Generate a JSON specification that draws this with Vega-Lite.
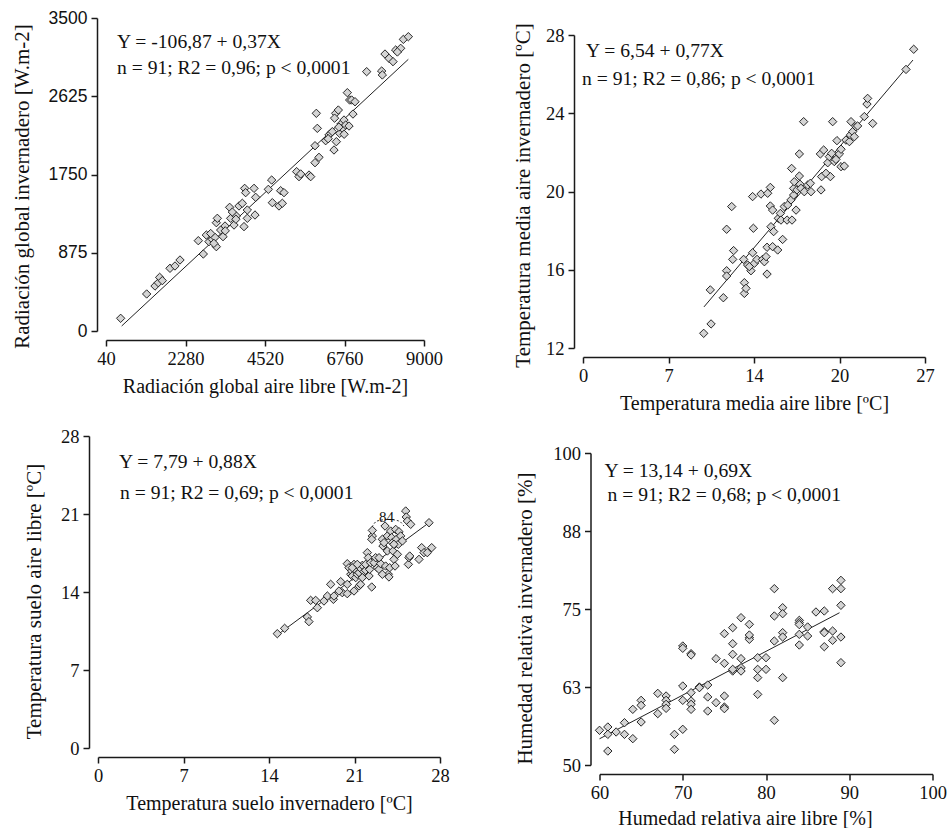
{
"$schema": "https://vega.github.io/schema/vega-lite/v6.json",
"padding": {"left": 11, "top": 9, "right": 0, "bottom": 0},
"background": "white",
"config": {
 "view": {"stroke": null},
 "axis": {"grid": false, "domainColor": "#1a1a1a", "domainWidth": 1.5, "tickColor": "#1a1a1a", "tickWidth": 1.5, "tickSize": 6, "labelColor": "#111", "titleColor": "#111", "labelFont": "Liberation Serif", "titleFont": "Liberation Serif", "labelFontSize": 18.5, "titleFontSize": 21, "titleFontWeight": "normal", "labelPadding": 4, "offset": 9, "labelFlush": false, "labelOverlap": false},
 "axisX": {"labelPadding": 3, "titlePadding": 9, "titleFontSize": 20},
 "text": {"font": "Liberation Serif", "color": "#111"},
 "point": {"shape": "diamond", "filled": true, "fill": "#d4d4d4", "stroke": "#111", "strokeWidth": 0.9, "size": 70, "opacity": 1}
},
"datasets": {
 "p1": [{"x":453,"y":142},{"x":1186,"y":414},{"x":1421,"y":503},{"x":1514,"y":540},{"x":1552,"y":600},{"x":1627,"y":563},{"x":1843,"y":701},{"x":1984,"y":727},{"x":2125,"y":794},{"x":2641,"y":1010},{"x":2782,"y":861},{"x":2867,"y":1073},{"x":2942,"y":999},{"x":3036,"y":1025},{"x":3111,"y":1047},{"x":3149,"y":943},{"x":3149,"y":1211},{"x":3177,"y":1260},{"x":3271,"y":1129},{"x":3337,"y":1055},{"x":3393,"y":1174},{"x":3524,"y":1383},{"x":3553,"y":1260},{"x":3647,"y":1185},{"x":3712,"y":1286},{"x":3787,"y":1398},{"x":3881,"y":1428},{"x":3928,"y":1167},{"x":3947,"y":1595},{"x":3975,"y":1547},{"x":4022,"y":1353},{"x":4022,"y":1260},{"x":4210,"y":1595},{"x":4238,"y":1297},{"x":4257,"y":1495},{"x":4614,"y":1584},{"x":4708,"y":1688},{"x":4727,"y":1435},{"x":4914,"y":1398},{"x":4961,"y":1569},{"x":5055,"y":1547},{"x":5008,"y":1428},{"x":5412,"y":1782},{"x":5478,"y":1726},{"x":5525,"y":1756},{"x":5760,"y":1744},{"x":5807,"y":1726},{"x":5929,"y":2072},{"x":5966,"y":2434},{"x":5994,"y":2266},{"x":5929,"y":1882},{"x":6041,"y":1942},{"x":6229,"y":2128},{"x":6323,"y":2192},{"x":6370,"y":2210},{"x":6417,"y":2229},{"x":6464,"y":2024},{"x":6511,"y":2434},{"x":6530,"y":2117},{"x":6586,"y":2471},{"x":6624,"y":2210},{"x":6661,"y":2315},{"x":6699,"y":2266},{"x":6746,"y":2359},{"x":6793,"y":2303},{"x":6840,"y":2665},{"x":6887,"y":2292},{"x":6906,"y":2583},{"x":6962,"y":2583},{"x":6999,"y":2426},{"x":7056,"y":2564},{"x":7385,"y":2900},{"x":7807,"y":2907},{"x":7826,"y":2863},{"x":7901,"y":3097},{"x":8014,"y":3049},{"x":8127,"y":3012},{"x":8202,"y":3142},{"x":8343,"y":3161},{"x":8418,"y":3261},{"x":8559,"y":3291},{"x":3080,"y":980},{"x":3400,"y":1120},{"x":3700,"y":1250},{"x":6300,"y":2150},{"x":6600,"y":2280},{"x":6750,"y":2200},{"x":8250,"y":3120},{"x":2990,"y":1090},{"x":3600,"y":1330},{"x":6480,"y":2380}],
 "l1": [{"x":482,"y":56},{"x":8558,"y":3038}],
 "p2": [{"x":9.53,"y":12.75},{"x":10.11,"y":13.23},{"x":10.05,"y":14.97},{"x":11.08,"y":14.57},{"x":11.34,"y":15.95},{"x":11.34,"y":15.68},{"x":11.74,"y":19.23},{"x":11.34,"y":18.07},{"x":11.89,"y":16.98},{"x":11.82,"y":16.53},{"x":12.74,"y":15.34},{"x":12.74,"y":14.79},{"x":12.87,"y":15.05},{"x":12.68,"y":16.53},{"x":13.0,"y":16.24},{"x":13.26,"y":15.95},{"x":13.39,"y":16.87},{"x":13.39,"y":19.74},{"x":13.45,"y":18.12},{"x":13.53,"y":16.33},{"x":13.74,"y":16.53},{"x":14.05,"y":19.87},{"x":14.18,"y":16.53},{"x":14.32,"y":16.41},{"x":14.45,"y":16.67},{"x":14.53,"y":15.78},{"x":14.53,"y":17.15},{"x":14.58,"y":19.91},{"x":14.79,"y":20.21},{"x":14.79,"y":19.26},{"x":14.97,"y":19.05},{"x":14.84,"y":18.2},{"x":14.97,"y":17.18},{"x":15.05,"y":17.95},{"x":15.37,"y":17.01},{"x":15.42,"y":18.63},{"x":15.58,"y":18.88},{"x":15.63,"y":18.54},{"x":15.76,"y":17.55},{"x":15.89,"y":19.23},{"x":16.11,"y":18.54},{"x":16.16,"y":19.31},{"x":16.42,"y":19.57},{"x":16.47,"y":21.18},{"x":16.5,"y":18.54},{"x":16.63,"y":19.82},{"x":16.63,"y":20.16},{"x":16.68,"y":20.5},{"x":16.82,"y":19.05},{"x":16.89,"y":20.08},{"x":17.08,"y":21.92},{"x":17.08,"y":20.79},{"x":17.13,"y":20.37},{"x":17.21,"y":20.16},{"x":17.42,"y":23.57},{"x":17.47,"y":19.99},{"x":17.74,"y":20.33},{"x":17.95,"y":20.42},{"x":18.0,"y":19.99},{"x":18.74,"y":21.92},{"x":18.79,"y":20.08},{"x":18.84,"y":20.76},{"x":19.0,"y":22.12},{"x":19.18,"y":20.93},{"x":19.32,"y":21.47},{"x":19.45,"y":21.78},{"x":19.53,"y":20.76},{"x":19.63,"y":21.95},{"x":19.71,"y":23.57},{"x":19.84,"y":21.53},{"x":19.97,"y":21.64},{"x":20.05,"y":22.6},{"x":20.24,"y":21.92},{"x":20.37,"y":22.16},{"x":20.37,"y":21.27},{"x":20.63,"y":21.3},{"x":20.76,"y":22.63},{"x":21.03,"y":22.55},{"x":21.11,"y":22.89},{"x":21.16,"y":23.57},{"x":21.29,"y":23.06},{"x":21.42,"y":22.8},{"x":21.55,"y":23.31},{"x":21.68,"y":23.35},{"x":22.21,"y":23.83},{"x":22.42,"y":24.47},{"x":22.47,"y":24.76},{"x":22.87,"y":23.48},{"x":25.5,"y":26.24},{"x":26.11,"y":27.27},{"x":13.13,"y":16.16}],
 "l2": [{"x":9.55,"y":14.1},{"x":26.05,"y":26.72}],
 "p3": [{"x":14.68,"y":10.26},{"x":15.28,"y":10.74},{"x":17.14,"y":11.76},{"x":17.27,"y":11.34},{"x":17.41,"y":13.25},{"x":17.82,"y":13.25},{"x":17.96,"y":12.59},{"x":18.5,"y":13.19},{"x":18.78,"y":13.64},{"x":19.05,"y":14.69},{"x":19.27,"y":13.34},{"x":19.32,"y":13.64},{"x":19.87,"y":14.93},{"x":20.0,"y":13.94},{"x":20.41,"y":14.69},{"x":20.41,"y":13.85},{"x":20.41,"y":16.54},{"x":20.55,"y":16.18},{"x":20.69,"y":15.59},{"x":20.77,"y":15.89},{"x":20.82,"y":15.44},{"x":20.96,"y":14.09},{"x":20.96,"y":16.48},{"x":21.04,"y":16.03},{"x":21.1,"y":15.29},{"x":21.23,"y":15.59},{"x":21.37,"y":15.74},{"x":21.37,"y":14.54},{"x":21.5,"y":14.69},{"x":21.5,"y":16.12},{"x":21.64,"y":16.39},{"x":21.78,"y":15.83},{"x":21.91,"y":15.95},{"x":21.91,"y":16.48},{"x":22.05,"y":17.53},{"x":22.13,"y":17.08},{"x":22.19,"y":15.44},{"x":22.24,"y":16.03},{"x":22.32,"y":16.63},{"x":22.41,"y":14.45},{"x":22.46,"y":19.03},{"x":22.41,"y":18.73},{"x":22.46,"y":19.53},{"x":22.6,"y":16.63},{"x":22.73,"y":17.08},{"x":22.87,"y":16.18},{"x":23.01,"y":16.03},{"x":23.14,"y":16.54},{"x":23.28,"y":18.73},{"x":23.33,"y":18.13},{"x":23.42,"y":18.43},{"x":23.5,"y":19.92},{"x":23.55,"y":16.33},{"x":23.69,"y":19.03},{"x":23.69,"y":17.68},{"x":23.77,"y":15.59},{"x":23.82,"y":15.35},{"x":23.88,"y":16.18},{"x":23.96,"y":19.47},{"x":24.04,"y":18.88},{"x":24.1,"y":18.43},{"x":24.15,"y":17.68},{"x":24.23,"y":16.93},{"x":24.32,"y":16.33},{"x":24.37,"y":19.62},{"x":24.43,"y":18.73},{"x":24.51,"y":17.38},{"x":24.59,"y":18.28},{"x":24.64,"y":19.41},{"x":24.78,"y":19.03},{"x":24.92,"y":18.58},{"x":25.19,"y":21.27},{"x":25.24,"y":20.73},{"x":25.33,"y":20.37},{"x":25.41,"y":16.48},{"x":25.46,"y":17.08},{"x":25.6,"y":20.07},{"x":26.28,"y":16.93},{"x":26.5,"y":17.98},{"x":26.69,"y":17.53},{"x":26.96,"y":17.53},{"x":27.1,"y":20.22},{"x":27.32,"y":17.98},{"x":25.52,"y":17.23},{"x":20.82,"y":16.18},{"x":21.64,"y":15.29},{"x":23.01,"y":17.08},{"x":24.23,"y":18.28},{"x":19.73,"y":14.09},{"x":21.23,"y":16.48},{"x":23.28,"y":15.59}],
 "l3": [{"x":14.82,"y":10.26},{"x":27.1,"y":20.22}],
 "a3": [{"x":22.43,"y":19.83},{"x":22.84,"y":20.37},{"x":23.82,"y":20.51},{"x":24.64,"y":20.37},{"x":25.05,"y":19.92}],
 "p4": [{"x":60,"y":55.56},{"x":61,"y":56.09},{"x":61,"y":54.91},{"x":61,"y":52.24},{"x":62,"y":55.29},{"x":63,"y":56.78},{"x":63,"y":54.91},{"x":64,"y":54.22},{"x":64,"y":58.92},{"x":65,"y":60.36},{"x":65,"y":59.56},{"x":65,"y":56.89},{"x":67,"y":61.48},{"x":67,"y":58.23},{"x":68,"y":61.06},{"x":68,"y":60.36},{"x":68,"y":59.72},{"x":68,"y":59.08},{"x":69,"y":54.91},{"x":69,"y":52.51},{"x":70,"y":69.07},{"x":70,"y":68.7},{"x":70,"y":62.66},{"x":70,"y":60.36},{"x":70,"y":55.72},{"x":71,"y":67.84},{"x":71,"y":67.63},{"x":71,"y":61.59},{"x":71,"y":60.26},{"x":71,"y":59.72},{"x":71,"y":58.92},{"x":72,"y":62.5},{"x":72,"y":62.39},{"x":73,"y":62.82},{"x":73,"y":60.9},{"x":73,"y":58.65},{"x":74,"y":59.99},{"x":74,"y":67.04},{"x":75,"y":71.05},{"x":75,"y":66.29},{"x":75,"y":61.06},{"x":75,"y":59.29},{"x":75,"y":59.03},{"x":76,"y":72.01},{"x":76,"y":69.44},{"x":76,"y":67.74},{"x":76,"y":65.06},{"x":77,"y":73.61},{"x":77,"y":67.04},{"x":77,"y":65.6},{"x":77,"y":65.06},{"x":78,"y":72.54},{"x":78,"y":70.41},{"x":78,"y":70.14},{"x":79,"y":67.2},{"x":79,"y":65.33},{"x":79,"y":64.0},{"x":79,"y":61.32},{"x":80,"y":67.2},{"x":80,"y":65.33},{"x":81,"y":78.26},{"x":81,"y":73.88},{"x":81,"y":69.87},{"x":81,"y":57.16},{"x":82,"y":75.21},{"x":82,"y":74.25},{"x":82,"y":71.21},{"x":82,"y":70.51},{"x":82,"y":64.0},{"x":84,"y":73.18},{"x":84,"y":72.81},{"x":84,"y":70.94},{"x":84,"y":69.23},{"x":85,"y":72.12},{"x":85,"y":70.67},{"x":86,"y":74.52},{"x":87,"y":74.68},{"x":87,"y":71.37},{"x":87,"y":68.96},{"x":88,"y":78.26},{"x":88,"y":71.47},{"x":88,"y":69.98},{"x":89,"y":79.59},{"x":89,"y":78.26},{"x":89,"y":75.59},{"x":89,"y":70.51},{"x":89,"y":66.4},{"x":76,"y":65.33},{"x":78,"y":70.83},{"x":87,"y":71.2},{"x":84,"y":72.5}],
 "l4": [{"x":60,"y":54.2},{"x":88.83,"y":74.4}]
},
"spacing": 13,
"vconcat": [
 {"concat": [
  {"width": 326, "height": 313,
   "layer": [
    {"data": {"name": "l1"}, "mark": {"type": "line", "color": "#222", "strokeWidth": 1},
     "encoding": {"x": {"field": "x", "type": "quantitative", "scale": {"domain": [40, 9000], "range": [8, 326], "nice": false, "zero": false},
        "axis": {"values": [40, 2280, 4520, 6760, 9000], "format": ".0f", "title": "Radiación global aire libre [W.m-2]"}},
      "y": {"field": "y", "type": "quantitative", "scale": {"domain": [0, 3500], "nice": false, "zero": false},
        "axis": {"values": [0, 875, 1750, 2625, 3500], "format": ".0f", "offset": 1, "labelFont": "Liberation Sans", "labelFontSize": 17.5, "title": "Radiación global invernadero [W.m-2]", "titlePadding": 16, "titleY": 168}}}},
    {"data": {"name": "p1"}, "mark": {"type": "point"},
     "encoding": {"x": {"field": "x", "type": "quantitative"}, "y": {"field": "y", "type": "quantitative"}}},
    {"data": {"values": [{}]}, "mark": {"type": "text", "text": "Y = -106,87 + 0,37X", "align": "left", "baseline": "alphabetic", "fontSize": 19.6},
     "encoding": {"x": {"datum": 350}, "y": {"datum": 3168}}},
    {"data": {"values": [{}]}, "mark": {"type": "text", "text": "n = 91; R2 = 0,96; p < 0,0001", "align": "left", "baseline": "alphabetic", "fontSize": 19.6},
     "encoding": {"x": {"datum": 350}, "y": {"datum": 2874}}}
   ]},
  {"width": 342, "height": 330,
   "layer": [
    {"data": {"name": "l2"}, "mark": {"type": "line", "color": "#222", "strokeWidth": 1},
     "encoding": {"x": {"field": "x", "type": "quantitative", "scale": {"domain": [0, 27], "nice": false, "zero": false},
        "axis": {"values": [0, 6.75, 13.5, 20.25, 27], "format": ".0f", "title": "Temperatura media aire libre [ºC]"}},
      "y": {"field": "y", "type": "quantitative", "scale": {"domain": [12, 28], "range": [330, 17], "nice": false, "zero": false},
        "axis": {"values": [12, 16, 20, 24, 28], "format": ".0f", "title": "Temperatura media aire invernadero [ºC]", "titlePadding": 12, "titleY": 177}}}},
    {"data": {"name": "p2"}, "mark": {"type": "point"},
     "encoding": {"x": {"field": "x", "type": "quantitative"}, "y": {"field": "y", "type": "quantitative"}}},
    {"data": {"values": [{}]}, "mark": {"type": "text", "text": "Y = 6,54 + 0,77X", "align": "left", "baseline": "alphabetic", "fontSize": 19.6},
     "encoding": {"x": {"datum": 0.24}, "y": {"datum": 26.88}}},
    {"data": {"values": [{}]}, "mark": {"type": "text", "text": "n = 91; R2 = 0,86; p < 0,0001", "align": "left", "baseline": "alphabetic", "fontSize": 19.6},
     "encoding": {"x": {"datum": -0.08}, "y": {"datum": 25.44}}}
   ]}
 ], "columns": 2, "align": "none", "spacing": 69},
 {"concat": [
  {"width": 342, "height": 312,
   "layer": [
    {"data": {"name": "l3"}, "mark": {"type": "line", "color": "#222", "strokeWidth": 1},
     "encoding": {"x": {"field": "x", "type": "quantitative", "scale": {"domain": [0, 28], "nice": false, "zero": false},
        "axis": {"values": [0, 7, 14, 21, 28], "format": ".0f", "title": "Temperatura suelo invernadero [ºC]"}},
      "y": {"field": "y", "type": "quantitative", "scale": {"domain": [0, 28], "nice": false, "zero": false},
        "axis": {"values": [0, 7, 14, 21, 28], "format": ".0f", "title": "Temperatura suelo aire libre [ºC]", "titlePadding": 16, "titleY": 165}}}},
    {"data": {"name": "a3"}, "mark": {"type": "line", "color": "#333", "strokeWidth": 1, "strokeDash": [2, 2], "interpolate": "monotone"},
     "encoding": {"x": {"field": "x", "type": "quantitative"}, "y": {"field": "y", "type": "quantitative"}}},
    {"data": {"name": "p3"}, "mark": {"type": "point"},
     "encoding": {"x": {"field": "x", "type": "quantitative"}, "y": {"field": "y", "type": "quantitative"}}},
    {"data": {"values": [{}]}, "mark": {"type": "text", "text": "84", "align": "left", "baseline": "alphabetic", "fontSize": 15},
     "encoding": {"x": {"datum": 23.0}, "y": {"datum": 20.28}}},
    {"data": {"values": [{}]}, "mark": {"type": "text", "text": "Y = 7,79 + 0,88X", "align": "left", "baseline": "alphabetic", "fontSize": 19.6},
     "encoding": {"x": {"datum": 1.72}, "y": {"datum": 25.13}}},
    {"data": {"values": [{}]}, "mark": {"type": "text", "text": "n = 91; R2 = 0,69; p < 0,0001", "align": "left", "baseline": "alphabetic", "fontSize": 19.6},
     "encoding": {"x": {"datum": 1.8}, "y": {"datum": 22.35}}}
   ]},
  {"width": 333, "height": 329,
   "layer": [
    {"data": {"name": "l4"}, "mark": {"type": "line", "color": "#222", "strokeWidth": 1},
     "encoding": {"x": {"field": "x", "type": "quantitative", "scale": {"domain": [60, 100], "nice": false, "zero": false},
        "axis": {"values": [60, 70, 80, 90, 100], "format": ".0f", "title": "Humedad relativa aire libre [%]", "titleX": 145.5, "titlePadding": 7}},
      "y": {"field": "y", "type": "quantitative", "scale": {"domain": [50, 100], "range": [329, 17], "nice": false, "zero": false},
        "axis": {"values": [50, 62.5, 75, 87.5, 100], "format": ".0f", "title": "Humedad relativa invernadero [%]", "titlePadding": 17, "titleY": 182}}}},
    {"data": {"name": "p4"}, "mark": {"type": "point"},
     "encoding": {"x": {"field": "x", "type": "quantitative"}, "y": {"field": "y", "type": "quantitative"}}},
    {"data": {"values": [{}]}, "mark": {"type": "text", "text": "Y = 13,14 + 0,69X", "align": "left", "baseline": "alphabetic", "fontSize": 19.6},
     "encoding": {"x": {"datum": 60.6}, "y": {"datum": 96.15}}},
    {"data": {"values": [{}]}, "mark": {"type": "text", "text": "n = 91; R2 = 0,68; p < 0,0001", "align": "left", "baseline": "alphabetic", "fontSize": 19.6},
     "encoding": {"x": {"datum": 60.96}, "y": {"datum": 92.31}}}
   ]}
 ], "columns": 2, "align": "none", "spacing": 64.5}
]
}
